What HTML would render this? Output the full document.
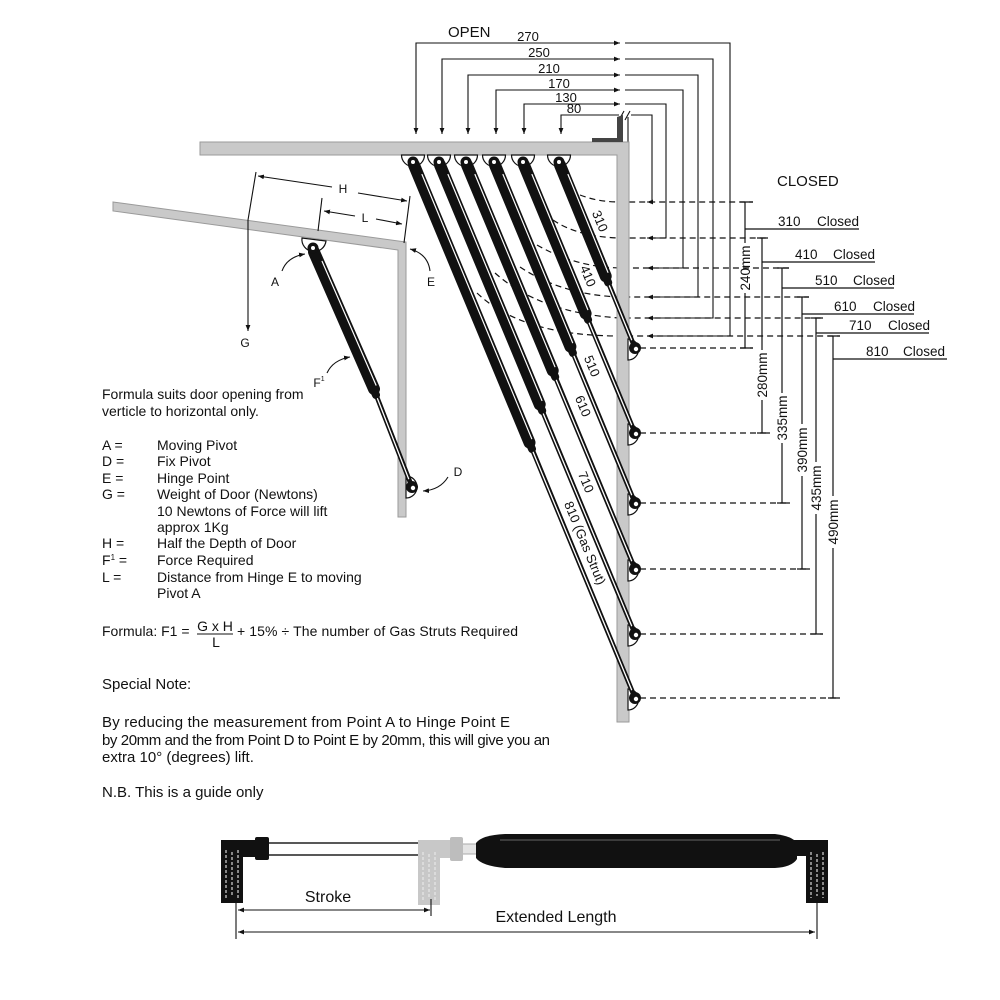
<!DOCTYPE html>
<html><head><meta charset="utf-8"><style>
html,body{margin:0;padding:0;background:#fff;}
svg{display:block;}
text{font-family:"Liberation Sans",Arial,sans-serif;fill:#111;}
</style></head><body>
<svg width="1000" height="1000" viewBox="0 0 1000 1000" xmlns="http://www.w3.org/2000/svg">
<defs>
<marker id="a" viewBox="0 0 10 8" refX="10" refY="4" markerWidth="6" markerHeight="4.8" markerUnits="userSpaceOnUse" orient="auto-start-reverse"><path d="M0,0 L10,4 L0,8Z" fill="#111"/></marker>
</defs>
<rect width="1000" height="1000" fill="#fff"/>

<!-- OPEN dims -->
<text x="448" y="37" font-size="15">OPEN</text>
<g fill="none" stroke="#111" stroke-width="1.1">
<path d="M620,43 H416 V134" marker-start="url(#a)" marker-end="url(#a)"/>
<path d="M625,43 H730 V336 H647" marker-end="url(#a)"/>
<path d="M620,59 H442 V134" marker-start="url(#a)" marker-end="url(#a)"/>
<path d="M625,59 H713 V318 H647" marker-end="url(#a)"/>
<path d="M620,75 H468 V134" marker-start="url(#a)" marker-end="url(#a)"/>
<path d="M625,75 H698 V297 H647" marker-end="url(#a)"/>
<path d="M620,90 H496 V134" marker-start="url(#a)" marker-end="url(#a)"/>
<path d="M625,90 H683 V268 H647" marker-end="url(#a)"/>
<path d="M620,104 H524 V134" marker-start="url(#a)" marker-end="url(#a)"/>
<path d="M625,104 H666 V238 H647" marker-end="url(#a)"/>
<path d="M619,115 H561 V134" marker-end="url(#a)"/>
<path d="M631,115 H652 V202 H647" marker-end="url(#a)"/>
<path d="M619,120 L624,111 M625,120 L630,111"/>
<path d="M628,117 V142"/>
</g>
<g font-size="13" text-anchor="middle">
<text x="528" y="41">270</text>
<text x="539" y="57">250</text>
<text x="549" y="73">210</text>
<text x="559" y="88">170</text>
<text x="566" y="102">130</text>
<text x="574" y="113">80</text>
</g>

<!-- dashed lines -->
<g fill="none" stroke="#111" stroke-width="1.2" stroke-dasharray="6,4">
<path d="M580,195 Q598,202 620,202 L753,202"/>
<path d="M553,220 Q578,237 620,238 L768,238"/>
<path d="M537,245 Q575,267 620,268 L789,268"/>
<path d="M520,267 Q562,295 620,297 L809,297"/>
<path d="M495,273 Q540,313 620,318 L823,318"/>
<path d="M477,293 Q522,336 620,336 L840,336"/>
<path d="M640,348 H753"/>
<path d="M640,433 H770"/>
<path d="M640,503 H790"/>
<path d="M640,569 H810"/>
<path d="M640,634 H823"/>
<path d="M640,698 H840"/>
</g>

<!-- vertical dims -->
<g fill="none" stroke="#111" stroke-width="1.2">
<path d="M740,202 H753 M740,348 H753 M745,202 V243 M745,293 V348"/>
<path d="M757,238 H768 M757,433 H770 M762,238 V350 M762,400 V433"/>
<path d="M777,268 H789 M777,503 H790 M782,268 V393 M782,443 V503"/>
<path d="M797,297 H809 M797,569 H810 M802,297 V424 M802,476 V569"/>
<path d="M811,318 H823 M811,634 H823 M816,318 V462 M816,514 V634"/>
<path d="M828,336 H840 M828,698 H840 M833,336 V496 M833,548 V698"/>
<path d="M745,229 H859 M762,262 H875 M782,288 H894 M802,314 H914 M816,333 H929 M833,359 H947"/>
</g>
<g font-size="13.5" text-anchor="middle">
<text transform="translate(745,268) rotate(-90)" y="4.8">240mm</text>
<text transform="translate(762,375) rotate(-90)" y="4.8">280mm</text>
<text transform="translate(782,418) rotate(-90)" y="4.8">335mm</text>
<text transform="translate(802,450) rotate(-90)" y="4.8">390mm</text>
<text transform="translate(816,488) rotate(-90)" y="4.8">435mm</text>
<text transform="translate(833,522) rotate(-90)" y="4.8">490mm</text>
</g>
<text x="777" y="186" font-size="15">CLOSED</text>
<g font-size="13.5">
<text x="778" y="226">310</text><text x="817" y="226">Closed</text>
<text x="795" y="259">410</text><text x="833" y="259">Closed</text>
<text x="815" y="285">510</text><text x="853" y="285">Closed</text>
<text x="834" y="311">610</text><text x="873" y="311">Closed</text>
<text x="849" y="330">710</text><text x="888" y="330">Closed</text>
<text x="866" y="356">810</text><text x="903" y="356">Closed</text>
</g>

<!-- main frame -->
<path d="M200,142 H629 V722 H617 V155 H200 Z" fill="#c9c9c9" stroke="#9a9a9a" stroke-width="1"/>
<path d="M617,117 L623,115 V142 H592 V138 H617 Z" fill="#444"/>

<!-- top pivots -->
<g fill="#fff" stroke="#111" stroke-width="1.2">
<path d="M401.5,155 A11.5,11.5 0 0 0 424.5,155 Z"/>
<path d="M427.5,155 A11.5,11.5 0 0 0 450.5,155 Z"/>
<path d="M454.5,155 A11.5,11.5 0 0 0 477.5,155 Z"/>
<path d="M482.5,155 A11.5,11.5 0 0 0 505.5,155 Z"/>
<path d="M511.5,155 A11.5,11.5 0 0 0 534.5,155 Z"/>
<path d="M547.5,155 A11.5,11.5 0 0 0 570.5,155 Z"/>
</g>
<!-- bottom pivot brackets -->
<g fill="#fff" stroke="#111" stroke-width="1.2">
<path d="M628,339 A10.5,10.5 0 0 1 628,360 Z"/>
<path d="M628,424 A10.5,10.5 0 0 1 628,445 Z"/>
<path d="M628,494 A10.5,10.5 0 0 1 628,515 Z"/>
<path d="M628,560 A10.5,10.5 0 0 1 628,581 Z"/>
<path d="M628,625 A10.5,10.5 0 0 1 628,646 Z"/>
<path d="M628,689 A10.5,10.5 0 0 1 628,710 Z"/>
</g>

<!-- struts -->
<g stroke-linecap="round" fill="none">
<g stroke="#111" stroke-width="4.8">
<path d="M530.7,445.6 L635,698"/>
<path d="M540.9,407.4 L635,634"/>
<path d="M553.9,373.6 L635,569"/>
<path d="M571.6,349.6 L635,503"/>
<path d="M586.8,316.5 L635,433"/>
<path d="M606.9,279.2 L635,348"/>
</g>
<g stroke="#111" stroke-width="12">
<path d="M414,165 L529.5,442.6"/>
<path d="M440,165 L539.7,404.4"/>
<path d="M467,165 L552.7,370.6"/>
<path d="M495,165 L570.4,346.6"/>
<path d="M524,165 L585.6,313.5"/>
<path d="M560,165 L605.7,276.2"/>
</g>
<g stroke="#111" stroke-width="8">
<path d="M413,162 L532,449"/>
<path d="M439,162 L542.2,410.8"/>
<path d="M466,162 L555.2,377"/>
<path d="M494,162 L572.9,353"/>
<path d="M523,162 L588.1,319.9"/>
<path d="M559,162 L608.2,282.6"/>
</g>
<g stroke="#fff" stroke-width="1.2" transform="translate(0.7,-0.3)">
<path d="M421.3,174.8 L531,439"/>
<path d="M447.3,174.8 L541.2,400.8"/>
<path d="M474.3,174.8 L554.2,367"/>
<path d="M502.3,174.8 L571.9,343"/>
<path d="M531.3,174.8 L587.1,309.9"/>
<path d="M567.3,174.8 L607.2,272.6"/>
</g>
<g stroke="#fff" stroke-width="1.3">
<path d="M533.2,452.3 L631.6,689.7"/>
<path d="M543.4,414 L631.6,625.7"/>
<path d="M556.4,380.3 L631.6,560.7"/>
<path d="M574.1,356.3 L631.6,494.7"/>
<path d="M589.3,323.2 L631.6,424.7"/>
<path d="M609.4,285.9 L631.6,339.7"/>
</g>
</g>
<!-- eyes -->
<g fill="#111">
<circle cx="413" cy="162" r="5.5"/><circle cx="439" cy="162" r="5.5"/><circle cx="466" cy="162" r="5.5"/>
<circle cx="494" cy="162" r="5.5"/><circle cx="523" cy="162" r="5.5"/><circle cx="559" cy="162" r="5.5"/>
<circle cx="635" cy="348" r="6"/><circle cx="635" cy="433" r="6"/><circle cx="635" cy="503" r="6"/>
<circle cx="635" cy="569" r="6"/><circle cx="635" cy="634" r="6"/><circle cx="635" cy="698" r="6"/>
</g>
<g fill="#fff">
<circle cx="413" cy="162" r="2"/><circle cx="439" cy="162" r="2"/><circle cx="466" cy="162" r="2"/>
<circle cx="494" cy="162" r="2"/><circle cx="523" cy="162" r="2"/><circle cx="559" cy="162" r="2"/>
<circle cx="636" cy="349" r="2.2"/><circle cx="636" cy="434" r="2.2"/><circle cx="636" cy="504" r="2.2"/>
<circle cx="636" cy="570" r="2.2"/><circle cx="636" cy="635" r="2.2"/><circle cx="636" cy="699" r="2.2"/>
</g>
<g font-size="13" text-anchor="middle">
<text transform="translate(600,221) rotate(67.5)" y="4.5">310</text>
<text transform="translate(588,276) rotate(67.5)" y="4.5">410</text>
<text transform="translate(592,366) rotate(67.5)" y="4.5">510</text>
<text transform="translate(583,406) rotate(67.5)" y="4.5">610</text>
<text transform="translate(586,482) rotate(67.5)" y="4.5">710</text>
<text transform="translate(585,543) rotate(67.5)" y="4.5">810 (Gas Strut)</text>
</g>

<!-- left diagram -->
<path d="M113,202 L406,242 V517 H398 V250 L113,211 Z" fill="#c9c9c9" stroke="#9a9a9a" stroke-width="1"/>
<path d="M302,238 A12,12 0 0 0 326,241 Z" fill="#fff" stroke="#111" stroke-width="1.2"/>
<path d="M406,476 A11,11 0 0 1 406,498 Z" fill="#fff" stroke="#111" stroke-width="1.2"/>
<g stroke-linecap="round" fill="none">
<path d="M375,392 L412,487" stroke="#111" stroke-width="4.8"/>
<path d="M314,252 L374,389" stroke="#111" stroke-width="12"/>
<path d="M313,249 L376,395" stroke="#111" stroke-width="8"/>
<path d="M322.1,261.4 L376,385.1" stroke="#fff" stroke-width="1.2"/>
<path d="M377.5,398.7 L408.6,478.7" stroke="#fff" stroke-width="1.3"/>
</g>
<circle cx="313" cy="248" r="5.5" fill="#111"/><circle cx="313" cy="248" r="2" fill="#fff"/>
<circle cx="412" cy="487" r="6" fill="#111"/><circle cx="413" cy="488" r="2.2" fill="#fff"/>
<g fill="none" stroke="#111" stroke-width="1.1">
<path d="M256,172 L248,220 L248,331" marker-end="url(#a)"/>
<path d="M332,187 L258,176" marker-end="url(#a)"/>
<path d="M358,193 L407,201" marker-end="url(#a)"/>
<path d="M410,196 L404,243"/>
<path d="M322,198 L318,231"/>
<path d="M355,216 L324,211" marker-end="url(#a)"/>
<path d="M376,219 L402,224" marker-end="url(#a)"/>
<path d="M282,271 Q287,257 305,254" marker-end="url(#a)"/>
<path d="M430,271 Q428,254 410,249" marker-end="url(#a)"/>
<path d="M327,373 Q333,360 350,357" marker-end="url(#a)"/>
<path d="M448,477 Q440,490 423,491" marker-end="url(#a)"/>
</g>
<g font-size="12" text-anchor="middle">
<text x="343" y="193">H</text>
<text x="365" y="222">L</text>
<text x="275" y="286">A</text>
<text x="431" y="286">E</text>
<text x="245" y="347">G</text>
<text x="319" y="387">F<tspan font-size="7" dy="-6">1</tspan></text>
<text x="458" y="476">D</text>
</g>

<!-- text block -->
<g font-size="14">
<text x="102" y="399">Formula suits door opening from</text>
<text x="102" y="416">verticle to horizontal only.</text>
<text x="102" y="450">A =</text><text x="157" y="450">Moving Pivot</text>
<text x="102" y="466">D =</text><text x="157" y="466">Fix Pivot</text>
<text x="102" y="483">E =</text><text x="157" y="483">Hinge Point</text>
<text x="102" y="499">G =</text><text x="157" y="499">Weight of Door (Newtons)</text>
<text x="157" y="516">10 Newtons of Force will lift</text>
<text x="157" y="532">approx 1Kg</text>
<text x="102" y="548">H =</text><text x="157" y="548">Half the Depth of Door</text>
<text x="102" y="565">F<tspan font-size="8" dy="-5">1</tspan><tspan dy="5"> =</tspan></text><text x="157" y="565">Force Required</text>
<text x="102" y="582">L =</text><text x="157" y="582">Distance from Hinge E to moving</text>
<text x="157" y="598">Pivot A</text>
<text x="102" y="636">Formula: F1 =</text>
<text x="215" y="631" text-anchor="middle">G x H</text>
<text x="216" y="647" text-anchor="middle">L</text>
<text x="237" y="636" textLength="281" lengthAdjust="spacing">+  15% ÷ The number of Gas Struts Required</text>
</g>
<path d="M197,634 H233" stroke="#111" stroke-width="1"/>
<g font-size="15">
<text x="102" y="689">Special Note:</text>
<text x="102" y="727" textLength="408" lengthAdjust="spacing">By reducing the measurement from Point A to Hinge Point E</text>
<text x="102" y="745" textLength="448" lengthAdjust="spacing">by 20mm and the from Point D to Point E by 20mm, this will give you an</text>
<text x="102" y="762">extra 10° (degrees) lift.</text>
<text x="102" y="797">N.B. This is a guide only</text>
</g>

<!-- bottom gas strut -->
<rect x="268" y="843" width="152" height="12" fill="#fff" stroke="#111" stroke-width="1.4"/>
<rect x="221" y="840" width="22" height="63" fill="#111"/>
<rect x="221" y="840" width="40" height="17" rx="3" fill="#111"/>
<rect x="255" y="837" width="14" height="23" rx="2" fill="#111"/>
<g stroke="#fff" stroke-width="1" stroke-dasharray="3,2">
<path d="M226,850 V898 M232,852 V896 M238,850 V898"/>
</g>
<rect x="462" y="844" width="16" height="10" fill="#e4e4e4" stroke="#aaa" stroke-width="1"/>
<rect x="418" y="840" width="22" height="65" fill="#c8c8c8"/>
<rect x="418" y="840" width="40" height="18" rx="2" fill="#c8c8c8"/>
<rect x="450" y="837" width="13" height="24" rx="2" fill="#bdbdbd"/>
<g stroke="#eee" stroke-width="1" stroke-dasharray="3,2">
<path d="M423,852 V900 M429,854 V898 M435,852 V900"/>
</g>
<path d="M476,843 Q482,835 505,834 L775,834 Q792,836 797,843 L797,859 Q792,867 775,868 L505,868 Q482,866 476,858 Z" fill="#111"/>
<path d="M500,840 H780" stroke="#666" stroke-width="1"/>
<rect x="790" y="840" width="38" height="16" rx="2" fill="#111"/>
<rect x="806" y="840" width="22" height="63" fill="#111"/>
<g stroke="#fff" stroke-width="1" stroke-dasharray="3,2">
<path d="M811,852 V898 M817,854 V896 M823,852 V898"/>
</g>
<g fill="none" stroke="#111" stroke-width="1.1">
<path d="M238,910 L430,910" marker-start="url(#a)" marker-end="url(#a)"/>
<path d="M431,899 V916"/>
<path d="M238,932 L815,932" marker-start="url(#a)" marker-end="url(#a)"/>
<path d="M236,903 V939"/>
<path d="M817,900 V939"/>
</g>
<text x="328" y="902" font-size="16" text-anchor="middle">Stroke</text>
<text x="556" y="922" font-size="16" text-anchor="middle">Extended Length</text>
</svg>
</body></html>
